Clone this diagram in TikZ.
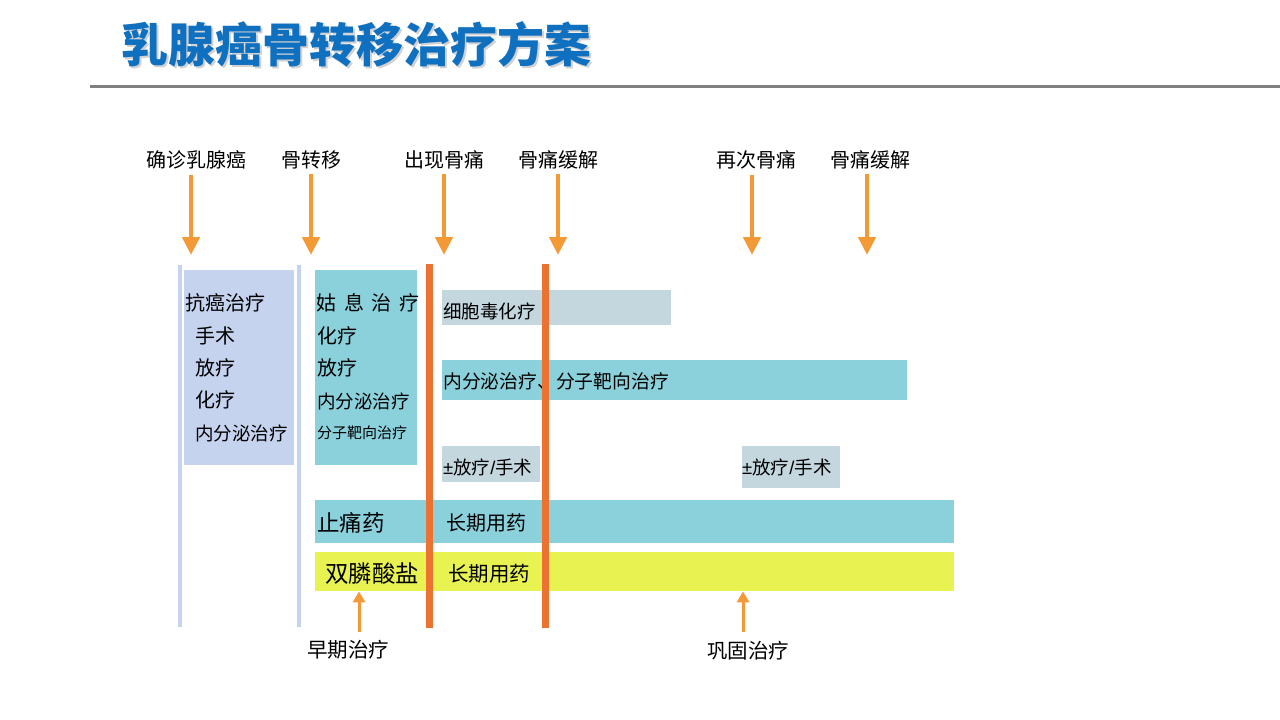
\documentclass[tikz,border=0pt]{standalone}
\usepackage{fontspec}
\setmainfont{Noto Sans CJK SC}
\newfontfamily\latinfont{Liberation Sans}
\usetikzlibrary{arrows.meta}

\definecolor{titleBlue}{HTML}{1070C0}
\definecolor{arrowOrange}{HTML}{F39A36}
\definecolor{lineOrange}{HTML}{EC7232}
\definecolor{paleBlue}{HTML}{C6D3EF}
\definecolor{tealBox}{HTML}{8AD1DC}
\definecolor{greyBox}{HTML}{C4D6DE}
\definecolor{yellowBox}{HTML}{E8F250}

\begin{document}
\begin{tikzpicture}
[x=1pt,y=-1pt,
  eventLabel/.style={font=\fontsize{20}{22}\selectfont,inner sep=0pt},%
  eventArrow/.style={-{Triangle[width=17pt,length=18pt]},line width=4.5pt,draw=arrowOrange},%
  stageArrow/.style={-{Triangle[width=12pt,length=11pt]},line width=3pt,draw=arrowOrange},%
  railLine/.style={line width=4pt,draw=paleBlue},%
  painLine/.style={line width=7pt,draw=lineOrange},%
  barBox/.style={anchor=north west,inner sep=0pt,minimum width=#1},%
  itemText/.style={anchor=west,inner sep=0pt,font=\fontsize{20}{22}\selectfont}]
\useasboundingbox[fill=white] (0,0) rectangle (1280,720);

%% title and rule
\node (titleShadow) at (358,46) [font=\fontsize{47}{50}\selectfont\bfseries,text=black!18] {乳腺癌骨转移治疗方案};
\node (title) at (356,44) [font=\fontsize{47}{50}\selectfont\bfseries,text=titleBlue] {乳腺癌骨转移治疗方案};
\coordinate (ruleL) at (90,86);
\coordinate (ruleR) at (1280,86);
\draw[line width=3pt,draw=black!50] (ruleL) -- (ruleR);

%% events on the time line
\foreach \nodename/\x/\ax/\txt in {
  diag/196/191/确诊乳腺癌, meta/311/311/骨转移, pain/444/444/出现骨痛,
  relief/558/558/骨痛缓解, repain/756/752/再次骨痛, rerelief/870/867/骨痛缓解}
{
  \node (\nodename) at (\x,160) [eventLabel] {\txt};
  \coordinate (\nodename-tip) at (\ax,255);
  \draw[eventArrow] (\nodename.south -| \nodename-tip) ++(0,5) -- (\nodename-tip);
}

%% boxes and bars
\node (cureBox) at (184,270) [barBox=110pt,minimum height=195pt,fill=paleBlue] {};
\node (careBox) at (315,270) [barBox=102pt,minimum height=195pt,fill=tealBox] {};
\node (chemoBar) at (442,290) [barBox=229pt,minimum height=35pt,fill=greyBox] {};
\node (endoBar) at (442,360) [barBox=465pt,minimum height=40pt,fill=tealBox] {};
\node (radioBarA) at (442,446) [barBox=98pt,minimum height=36pt,fill=greyBox] {};
\node (radioBarB) at (742,446) [barBox=98pt,minimum height=42pt,fill=greyBox] {};
\node (analgesicBar) at (315,500) [barBox=639pt,minimum height=43pt,fill=tealBox] {};
\node (bisphosBar) at (315,552) [barBox=639pt,minimum height=39pt,fill=yellowBox] {};

%% texts in the boxes
\node (cureHead) at (185,303) [itemText] {抗癌治疗};
\node (cureA) at (195,336) [itemText] {手术};
\node (cureB) at (195,368) [itemText] {放疗};
\node (cureC) at (195,400) [itemText] {化疗};
\node (cureD) at (195,433) [itemText,font=\fontsize{18.5}{20}\selectfont] {内分泌治疗};
\node (careHead) at (316,303) [itemText] {姑\,\ 息\,\ 治\,\ 疗};
\node (careA) at (317,336) [itemText] {化疗};
\node (careB) at (317,368) [itemText] {放疗};
\node (careC) at (317,401) [itemText,font=\fontsize{18.5}{20}\selectfont] {内分泌治疗};
\node (careD) at (317,433) [itemText,font=\fontsize{15}{17}\selectfont] {分子靶向治疗};
\node (chemoText) at (443,311) [itemText,font=\fontsize{18.5}{20}\selectfont] {细胞毒化疗};
\node (endoText) at (443,381) [itemText,font=\fontsize{18.8}{20}\selectfont] {内分泌治疗、分子靶向治疗};
\node (radioTextA) at (443,467) [itemText,font=\fontsize{18.5}{20}\selectfont] {{\latinfont ±}放疗{\latinfont /}手术};
\node (radioTextB) at (742,467) [itemText,font=\fontsize{18.5}{20}\selectfont] {{\latinfont ±}放疗{\latinfont /}手术};
\node (analgesicText) at (317,523) [itemText,font=\fontsize{22.5}{24}\selectfont] {止痛药};
\node (analgesicLong) at (446,523) [itemText] {长期用药};
\node (bisphosText) at (325,574) [itemText,font=\fontsize{23.5}{25}\selectfont] {双膦酸盐};
\node (bisphosLong) at (448,574) [itemText,font=\fontsize{20.5}{22}\selectfont] {长期用药};

%% vertical lines
\foreach \nodename/\x in {railA/180, railB/299}
{
  \coordinate (\nodename-top) at (\x,265);
  \coordinate (\nodename-end) at (\x,627);
  \draw[railLine] (\nodename-top) -- (\nodename-end);
}
\foreach \nodename/\x in {painA/429, painB/545}
{
  \coordinate (\nodename-top) at (\x,264);
  \coordinate (\nodename-end) at (\x,628);
  \draw[painLine] (\nodename-top) -- (\nodename-end);
}

%% stages
\node (early) at (348,650) [eventLabel,font=\fontsize{20.5}{22}\selectfont] {早期治疗};
\node (consol) at (748,651) [eventLabel,font=\fontsize{20.5}{22}\selectfont] {巩固治疗};
\coordinate (earlyTail) at (359,632);
\coordinate (consolTail) at (743,632);
\draw[stageArrow] (earlyTail) -- (bisphosBar.south -| earlyTail);
\draw[stageArrow] (consolTail) -- (bisphosBar.south -| consolTail);
\end{tikzpicture}
\end{document}
